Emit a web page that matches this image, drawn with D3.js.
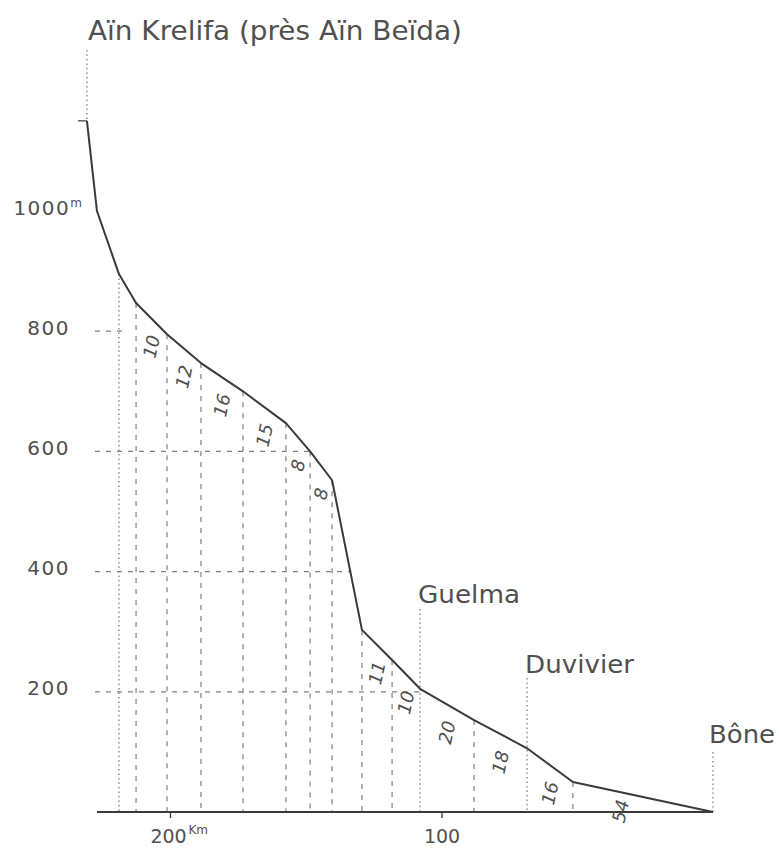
<!DOCTYPE html>
<html><head><meta charset="utf-8">
<script src="https://cdn.jsdelivr.net/npm/d3@7"></script>
<style>body{margin:0;background:#fff;} svg{display:block;}</style>
</head><body>
<script>
// ---- data ----
const distanceKm = [230.6, 226.9, 218.8, 212.5, 201.1, 188.6, 173.1, 157.3, 148.4, 140.3, 129.3, 118.2, 107.9, 88.0, 68.5, 51.6, 0];
const elevationM = [1150, 1000, 895, 847, 795, 747, 700, 647, 600, 552, 303, 253, 205, 153, 106, 50, 0];
const segmentLabels = ["", "", "", "10", "12", "16", "15", "8", "8", "", "11", "10", "20", "18", "16", "54"];
const placeNames = ["Aïn Krelifa (près Aïn Beïda)", "Guelma", "Duvivier", "Bône"];
const placePointIndex = [0, 12, 14, 16];
const elevTicks = [200, 400, 600, 800, 1000];
const distTicks = [200, 100];

const W = 779, H = 852;
const svg = d3.select("body").append("svg").attr("width", W).attr("height", H);
const x = d3.scaleLinear().domain([200, 0]).range([170, 713]);
const y = d3.scaleLinear().domain([0, 1000]).range([812, 211]);
const pts = distanceKm.map((d, i) => [d, elevationM[i]]);
const FONT = "'DejaVu Sans', sans-serif";
const INK = "#3a3a3a", GRID = "#808080", TXT = "#505050";

// crossing of the profile at a given elevation
function kmAtElev(v) {
  for (let i = 0; i < pts.length - 1; i++) {
    const [k0, e0] = pts[i], [k1, e1] = pts[i + 1];
    if ((e0 - v) * (e1 - v) <= 0 && e0 !== e1) {
      const t = (e0 - v) / (e0 - e1);
      return k0 + t * (k1 - k0);
    }
  }
  return 0;
}

// horizontal dashed guide lines
const gH = svg.append("g");
elevTicks.filter(v => v < 1000).forEach(v => {
  const xEnd = v === 800 ? x(distanceKm[2]) + 6 : x(kmAtElev(v));
  gH.append("line").attr("x1", x(distanceKm[1]) - 2).attr("x2", xEnd)
    .attr("y1", y(v)).attr("y2", y(v))
    .attr("stroke", GRID).attr("stroke-width", 1.2).attr("stroke-dasharray", "5,6");
});

// vertical guide lines at profile break points
const dottedIdx = new Set([2, 12, 14, 16]);
const gV = svg.append("g");
for (let i = 2; i < pts.length; i++) {
  let yTop = y(elevationM[i]);
  if (i === 14) yTop = 678;
  if (i === 16) yTop = 752;
  gV.append("line").attr("x1", x(distanceKm[i])).attr("x2", x(distanceKm[i]))
    .attr("y1", yTop).attr("y2", y(0))
    .attr("stroke", GRID).attr("stroke-width", dottedIdx.has(i) ? 1.3 : 1.2)
    .attr("stroke-dasharray", dottedIdx.has(i) ? "1.5,3" : "5,6");
}
// Guelma dotted leader above the point
gV.append("line").attr("x1", x(distanceKm[12])).attr("x2", x(distanceKm[12]))
  .attr("y1", 609).attr("y2", y(elevationM[12]))
  .attr("stroke", GRID).attr("stroke-width", 1.3).attr("stroke-dasharray", "1.5,3");
// source dotted leader
gV.append("line").attr("x1", x(distanceKm[0])).attr("x2", x(distanceKm[0]))
  .attr("y1", 50).attr("y2", y(elevationM[0]))
  .attr("stroke", GRID).attr("stroke-width", 1.3).attr("stroke-dasharray", "1.5,3");
// small tick at the source
svg.append("line").attr("x1", x(distanceKm[0]) - 9).attr("x2", x(distanceKm[0]))
  .attr("y1", y(elevationM[0])).attr("y2", y(elevationM[0]))
  .attr("stroke", INK).attr("stroke-width", 1.2);

// baseline (sea level)
svg.append("line").attr("x1", x(distanceKm[1])).attr("x2", x(0))
  .attr("y1", y(0)).attr("y2", y(0)).attr("stroke", INK).attr("stroke-width", 2.2);

// profile
svg.append("path").datum(pts)
  .attr("d", d3.line().x(d => x(d[0])).y(d => y(d[1])))
  .attr("fill", "none").attr("stroke", INK).attr("stroke-width", 2).attr("stroke-linejoin", "round");

// segment labels (rotated)
const gL = svg.append("g").attr("font-family", FONT).attr("font-size", 18)
  .attr("font-style", "italic").attr("fill", TXT);
segmentLabels.forEach((lab, i) => {
  if (!lab) return;
  const last = i === segmentLabels.length - 1;
  const t = last ? 0.34 : 0.5;
  const km = distanceKm[i] + t * (distanceKm[i + 1] - distanceKm[i]);
  const el = elevationM[i] + t * (elevationM[i + 1] - elevationM[i]);
  const px = x(km), py = y(el) + (last ? 19 : 28);
  gL.append("text").attr("transform", `translate(${px},${py}) rotate(-78)`)
    .attr("text-anchor", "middle").attr("dy", "0.35em").text(lab);
});

// y axis labels
const yAxis = d3.axisLeft(y).tickValues(elevTicks).tickSize(0).tickFormat(d3.format("d"));
const gy = svg.append("g").attr("transform", "translate(70,0)").call(yAxis);
gy.select(".domain").remove();
gy.selectAll("text").attr("font-family", FONT).attr("font-size", 20)
  .attr("letter-spacing", 1.5).attr("fill", TXT).attr("x", 0).attr("dy", 3)
  .attr("dominant-baseline", "auto").attr("text-anchor", "end");
gy.selectAll(".tick").filter(d => d === 1000).select("text")
  .attr("x", 12).text("1000")
  .append("tspan").attr("font-size", 12).attr("dy", -8).attr("letter-spacing", 0).text("m");

// x axis
const xAxis = d3.axisBottom(x).tickValues(distTicks).tickSize(6).tickFormat(d3.format("d"));
const gx = svg.append("g").attr("transform", `translate(0,${y(0)})`).call(xAxis);
gx.select(".domain").remove();
gx.selectAll(".tick line").attr("stroke", INK).attr("stroke-width", 1.3);
gx.selectAll(".tick text").attr("font-family", FONT).attr("font-size", 19)
  .attr("fill", TXT).attr("y", 31).attr("dy", 0);
gx.selectAll(".tick").filter(d => d === 200).select("text").attr("x", -2);
gx.selectAll(".tick").filter(d => d === 200).append("text")
  .attr("x", 18).attr("y", 22).attr("font-family", FONT).attr("font-size", 12)
  .attr("fill", TXT).attr("text-anchor", "start").text("Km");

// place names
const placeBox = [
  {x: 88, yb: 40, w: 374, fs: 27},
  {x: 418, yb: 603, w: 102, fs: 24},
  {x: 525, yb: 673, w: 109, fs: 24},
  {x: 709, yb: 743, w: 66, fs: 24}
];
placeNames.forEach((name, i) => {
  const b = placeBox[i];
  svg.append("text").attr("x", b.x).attr("y", b.yb)
    .attr("font-family", FONT).attr("font-size", b.fs).attr("fill", TXT)
    .attr("textLength", b.w).attr("lengthAdjust", "spacingAndGlyphs")
    .text(name);
});
</script>
</body></html>
